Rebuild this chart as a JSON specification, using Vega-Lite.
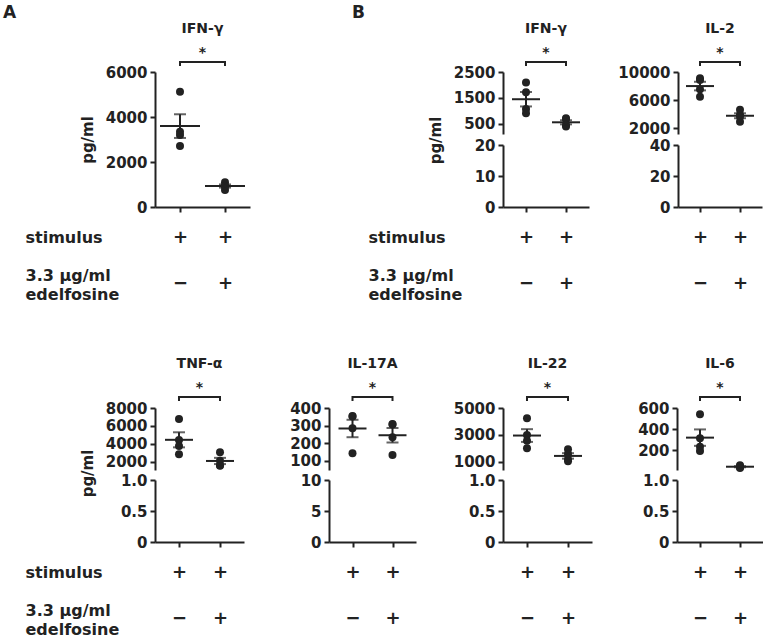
{
  "$schema": "https://vega.github.io/schema/vega-lite/v6.json",
  "padding": {"left": 3, "top": 3, "right": 0, "bottom": 0},
  "background": "white",
  "config": {
    "view": {"stroke": null},
    "font": "DejaVu Sans",
    "axis": {"grid": false, "domainColor": "#222", "domainWidth": 2, "tickColor": "#222", "tickWidth": 2, "tickSize": 5, "labelFont": "DejaVu Sans", "labelFontWeight": "bold", "labelFontSize": 15, "labelColor": "#222", "labelPadding": 3, "titleFont": "DejaVu Sans", "titleFontWeight": "bold", "titleFontSize": 15, "titleColor": "#222", "titlePadding": 10},
    "title": {"font": "DejaVu Sans", "fontSize": 14, "fontWeight": "bold", "color": "#222", "lineHeight": 24, "offset": -2}
  },
  "datasets": {
    "cyto": [
      {"figure": "A", "cytokine": "IFN-γ", "edelfosine": "−", "value": 5120},
      {"figure": "A", "cytokine": "IFN-γ", "edelfosine": "−", "value": 3350},
      {"figure": "A", "cytokine": "IFN-γ", "edelfosine": "−", "value": 3200},
      {"figure": "A", "cytokine": "IFN-γ", "edelfosine": "−", "value": 2710},
      {"figure": "A", "cytokine": "IFN-γ", "edelfosine": "+", "value": 1100},
      {"figure": "A", "cytokine": "IFN-γ", "edelfosine": "+", "value": 950},
      {"figure": "A", "cytokine": "IFN-γ", "edelfosine": "+", "value": 920},
      {"figure": "A", "cytokine": "IFN-γ", "edelfosine": "+", "value": 760},
      {"figure": "B", "cytokine": "IFN-γ", "edelfosine": "−", "value": 2100},
      {"figure": "B", "cytokine": "IFN-γ", "edelfosine": "−", "value": 1720},
      {"figure": "B", "cytokine": "IFN-γ", "edelfosine": "−", "value": 1080},
      {"figure": "B", "cytokine": "IFN-γ", "edelfosine": "−", "value": 910},
      {"figure": "B", "cytokine": "IFN-γ", "edelfosine": "+", "value": 720},
      {"figure": "B", "cytokine": "IFN-γ", "edelfosine": "+", "value": 680},
      {"figure": "B", "cytokine": "IFN-γ", "edelfosine": "+", "value": 460},
      {"figure": "B", "cytokine": "IFN-γ", "edelfosine": "+", "value": 400},
      {"figure": "B", "cytokine": "IL-2", "edelfosine": "−", "value": 9100},
      {"figure": "B", "cytokine": "IL-2", "edelfosine": "−", "value": 8860},
      {"figure": "B", "cytokine": "IL-2", "edelfosine": "−", "value": 7530},
      {"figure": "B", "cytokine": "IL-2", "edelfosine": "−", "value": 6470},
      {"figure": "B", "cytokine": "IL-2", "edelfosine": "+", "value": 4600},
      {"figure": "B", "cytokine": "IL-2", "edelfosine": "+", "value": 3900},
      {"figure": "B", "cytokine": "IL-2", "edelfosine": "+", "value": 3600},
      {"figure": "B", "cytokine": "IL-2", "edelfosine": "+", "value": 2900},
      {"figure": "B", "cytokine": "TNF-α", "edelfosine": "−", "value": 6780},
      {"figure": "B", "cytokine": "TNF-α", "edelfosine": "−", "value": 4440},
      {"figure": "B", "cytokine": "TNF-α", "edelfosine": "−", "value": 3780},
      {"figure": "B", "cytokine": "TNF-α", "edelfosine": "−", "value": 2860},
      {"figure": "B", "cytokine": "TNF-α", "edelfosine": "+", "value": 3080},
      {"figure": "B", "cytokine": "TNF-α", "edelfosine": "+", "value": 2150},
      {"figure": "B", "cytokine": "TNF-α", "edelfosine": "+", "value": 1650},
      {"figure": "B", "cytokine": "TNF-α", "edelfosine": "+", "value": 1580},
      {"figure": "B", "cytokine": "IL-17A", "edelfosine": "−", "value": 355},
      {"figure": "B", "cytokine": "IL-17A", "edelfosine": "−", "value": 352},
      {"figure": "B", "cytokine": "IL-17A", "edelfosine": "−", "value": 285},
      {"figure": "B", "cytokine": "IL-17A", "edelfosine": "−", "value": 144},
      {"figure": "B", "cytokine": "IL-17A", "edelfosine": "+", "value": 309},
      {"figure": "B", "cytokine": "IL-17A", "edelfosine": "+", "value": 306},
      {"figure": "B", "cytokine": "IL-17A", "edelfosine": "+", "value": 234},
      {"figure": "B", "cytokine": "IL-17A", "edelfosine": "+", "value": 134},
      {"figure": "B", "cytokine": "IL-22", "edelfosine": "−", "value": 4240},
      {"figure": "B", "cytokine": "IL-22", "edelfosine": "−", "value": 3000},
      {"figure": "B", "cytokine": "IL-22", "edelfosine": "−", "value": 2580},
      {"figure": "B", "cytokine": "IL-22", "edelfosine": "−", "value": 2020},
      {"figure": "B", "cytokine": "IL-22", "edelfosine": "+", "value": 1950},
      {"figure": "B", "cytokine": "IL-22", "edelfosine": "+", "value": 1600},
      {"figure": "B", "cytokine": "IL-22", "edelfosine": "+", "value": 1200},
      {"figure": "B", "cytokine": "IL-22", "edelfosine": "+", "value": 1050},
      {"figure": "B", "cytokine": "IL-6", "edelfosine": "−", "value": 540},
      {"figure": "B", "cytokine": "IL-6", "edelfosine": "−", "value": 311},
      {"figure": "B", "cytokine": "IL-6", "edelfosine": "−", "value": 231},
      {"figure": "B", "cytokine": "IL-6", "edelfosine": "−", "value": 190},
      {"figure": "B", "cytokine": "IL-6", "edelfosine": "+", "value": 55},
      {"figure": "B", "cytokine": "IL-6", "edelfosine": "+", "value": 45},
      {"figure": "B", "cytokine": "IL-6", "edelfosine": "+", "value": 35},
      {"figure": "B", "cytokine": "IL-6", "edelfosine": "+", "value": 30}
    ],
    "sig": [
      {"figure": "A", "cytokine": "IFN-γ", "edelfosine": "−", "y": 6267, "step": 1},
      {"figure": "A", "cytokine": "IFN-γ", "edelfosine": "−", "y": 6444, "step": 2},
      {"figure": "A", "cytokine": "IFN-γ", "edelfosine": "+", "y": 6444, "step": 3},
      {"figure": "A", "cytokine": "IFN-γ", "edelfosine": "+", "y": 6267, "step": 4},
      {"figure": "B", "cytokine": "IFN-γ", "edelfosine": "−", "y": 2731, "step": 1},
      {"figure": "B", "cytokine": "IFN-γ", "edelfosine": "−", "y": 2885, "step": 2},
      {"figure": "B", "cytokine": "IFN-γ", "edelfosine": "+", "y": 2885, "step": 3},
      {"figure": "B", "cytokine": "IFN-γ", "edelfosine": "+", "y": 2731, "step": 4},
      {"figure": "B", "cytokine": "IL-2", "edelfosine": "−", "y": 10857, "step": 1},
      {"figure": "B", "cytokine": "IL-2", "edelfosine": "−", "y": 11429, "step": 2},
      {"figure": "B", "cytokine": "IL-2", "edelfosine": "+", "y": 11429, "step": 3},
      {"figure": "B", "cytokine": "IL-2", "edelfosine": "+", "y": 10857, "step": 4},
      {"figure": "B", "cytokine": "TNF-α", "edelfosine": "−", "y": 8778, "step": 1},
      {"figure": "B", "cytokine": "TNF-α", "edelfosine": "−", "y": 9222, "step": 2},
      {"figure": "B", "cytokine": "TNF-α", "edelfosine": "+", "y": 9222, "step": 3},
      {"figure": "B", "cytokine": "TNF-α", "edelfosine": "+", "y": 8778, "step": 4},
      {"figure": "B", "cytokine": "IL-17A", "edelfosine": "−", "y": 440, "step": 1},
      {"figure": "B", "cytokine": "IL-17A", "edelfosine": "−", "y": 462, "step": 2},
      {"figure": "B", "cytokine": "IL-17A", "edelfosine": "+", "y": 462, "step": 3},
      {"figure": "B", "cytokine": "IL-17A", "edelfosine": "+", "y": 440, "step": 4},
      {"figure": "B", "cytokine": "IL-22", "edelfosine": "−", "y": 5519, "step": 1},
      {"figure": "B", "cytokine": "IL-22", "edelfosine": "−", "y": 5815, "step": 2},
      {"figure": "B", "cytokine": "IL-22", "edelfosine": "+", "y": 5815, "step": 3},
      {"figure": "B", "cytokine": "IL-22", "edelfosine": "+", "y": 5519, "step": 4},
      {"figure": "B", "cytokine": "IL-6", "edelfosine": "−", "y": 667, "step": 1},
      {"figure": "B", "cytokine": "IL-6", "edelfosine": "−", "y": 705, "step": 2},
      {"figure": "B", "cytokine": "IL-6", "edelfosine": "+", "y": 705, "step": 3},
      {"figure": "B", "cytokine": "IL-6", "edelfosine": "+", "y": 667, "step": 4}
    ]
  },
  "bounds": "flush",
  "spacing": 336,
  "vconcat": [
    {
      "bounds": "flush",
      "spacing": 348,
      "hconcat": [
        {
          "title": {"text": "A", "anchor": "start", "frame": "group", "dx": -152, "fontSize": 17, "offset": 0},
          "bounds": "flush",
          "vconcat": [
            {
              "width": 95, "height": 135,
              "title": {"text": ["IFN-γ", "*"]},
              "layer": [
                {"data": {"name": "cyto"}, "transform": [{"filter": "datum.figure == 'A' && datum.cytokine == 'IFN-γ'"}],
                 "mark": {"type": "circle", "size": 64, "color": "#222", "opacity": 1},
                 "encoding": {
                   "x": {"field": "edelfosine", "type": "nominal", "scale": {"type": "point", "domain": ["−", "+"], "padding": 0.5556},
                         "axis": {"labelExpr": "['+', datum.value]", "labelFontSize": 18, "labelLineHeight": 46, "labelPadding": 16, "labelAngle": 0, "labelBaseline": "top",
                                  "title": ["stimulus", "\u200b", "3.3 µg/ml", "edelfosine"], "titleX": -130, "titleY": 22, "titleAlign": "left", "titleBaseline": "top", "titleFontSize": 16, "titleLineHeight": 19}},
                   "y": {"field": "value", "type": "quantitative", "scale": {"domain": [0, 6000], "nice": false}, "axis": {"values": [0, 2000, 4000, 6000], "format": "d", "title": "pg/ml"}}
                 }},
                {"data": {"name": "cyto"}, "transform": [{"filter": "datum.figure == 'A' && datum.cytokine == 'IFN-γ'"}],
                 "mark": {"type": "tick", "size": 40, "thickness": 2, "color": "#222"},
                 "encoding": {
                   "x": {"field": "edelfosine", "type": "nominal", "scale": {"type": "point", "domain": ["−", "+"], "padding": 0.5556}},
                   "y": {"aggregate": "mean", "field": "value", "type": "quantitative", "scale": {"domain": [0, 6000], "nice": false}, "axis": {"values": [0, 2000, 4000, 6000], "format": "d", "title": "pg/ml"}}
                 }},
                {"data": {"name": "cyto"}, "transform": [{"filter": "datum.figure == 'A' && datum.cytokine == 'IFN-γ'"}],
                 "mark": {"type": "errorbar", "extent": "stderr", "color": "#222", "thickness": 2, "ticks": {"size": 12, "thickness": 2}},
                 "encoding": {
                   "x": {"field": "edelfosine", "type": "nominal", "scale": {"type": "point", "domain": ["−", "+"], "padding": 0.5556}},
                   "y": {"field": "value", "type": "quantitative", "scale": {"domain": [0, 6000], "nice": false}, "axis": {"values": [0, 2000, 4000, 6000], "format": "d", "title": "pg/ml"}}
                 }},
                {"data": {"name": "sig"}, "transform": [{"filter": "datum.figure == 'A' && datum.cytokine == 'IFN-γ'"}],
                 "mark": {"type": "line", "color": "#222", "strokeWidth": 2, "strokeJoin": "miter"},
                 "encoding": {
                   "x": {"field": "edelfosine", "type": "nominal", "scale": {"type": "point", "domain": ["−", "+"], "padding": 0.5556}},
                   "y": {"field": "y", "type": "quantitative", "scale": {"domain": [0, 6000], "nice": false}, "axis": {"values": [0, 2000, 4000, 6000], "format": "d", "title": "pg/ml"}},
                   "order": {"field": "step", "type": "quantitative"}
                 }}
              ]
            }
          ]
        },
        {
          "title": {"text": "B", "anchor": "start", "frame": "group", "dx": -151, "fontSize": 17, "offset": 0},
          "bounds": "flush",
          "spacing": 175,
          "hconcat": [
            {
              "bounds": "flush", "spacing": 11,
              "vconcat": [
                {
                  "width": 86, "height": 62,
                  "title": {"text": ["IFN-γ", "*"]},
                  "layer": [
                    {"data": {"name": "cyto"}, "transform": [{"filter": "datum.figure == 'B' && datum.cytokine == 'IFN-γ'"}],
                     "mark": {"type": "circle", "size": 64, "color": "#222", "opacity": 1},
                     "encoding": {
                       "x": {"field": "edelfosine", "type": "nominal", "scale": {"type": "point", "domain": ["−", "+"], "padding": 0.575}, "axis": null},
                       "y": {"field": "value", "type": "quantitative", "scale": {"domain": [115, 2500], "nice": false, "zero": false}, "axis": {"values": [500, 1500, 2500], "format": "d", "title": "pg/ml", "titleY": 68}}
                     }},
                    {"data": {"name": "cyto"}, "transform": [{"filter": "datum.figure == 'B' && datum.cytokine == 'IFN-γ'"}],
                     "mark": {"type": "tick", "size": 28, "thickness": 2, "color": "#222"},
                     "encoding": {
                       "x": {"field": "edelfosine", "type": "nominal", "scale": {"type": "point", "domain": ["−", "+"], "padding": 0.575}, "axis": null},
                       "y": {"aggregate": "mean", "field": "value", "type": "quantitative", "scale": {"domain": [115, 2500], "nice": false, "zero": false}, "axis": {"values": [500, 1500, 2500], "format": "d", "title": "pg/ml", "titleY": 68}}
                     }},
                    {"data": {"name": "cyto"}, "transform": [{"filter": "datum.figure == 'B' && datum.cytokine == 'IFN-γ'"}],
                     "mark": {"type": "errorbar", "extent": "stderr", "color": "#222", "thickness": 2, "ticks": {"size": 12, "thickness": 2}},
                     "encoding": {
                       "x": {"field": "edelfosine", "type": "nominal", "scale": {"type": "point", "domain": ["−", "+"], "padding": 0.575}, "axis": null},
                       "y": {"field": "value", "type": "quantitative", "scale": {"domain": [115, 2500], "nice": false, "zero": false}, "axis": {"values": [500, 1500, 2500], "format": "d", "title": "pg/ml", "titleY": 68}}
                     }},
                    {"data": {"name": "sig"}, "transform": [{"filter": "datum.figure == 'B' && datum.cytokine == 'IFN-γ'"}],
                     "mark": {"type": "line", "color": "#222", "strokeWidth": 2, "strokeJoin": "miter"},
                     "encoding": {
                       "x": {"field": "edelfosine", "type": "nominal", "scale": {"type": "point", "domain": ["−", "+"], "padding": 0.575}, "axis": null},
                       "y": {"field": "y", "type": "quantitative", "scale": {"domain": [115, 2500], "nice": false, "zero": false}, "axis": {"values": [500, 1500, 2500], "format": "d", "title": "pg/ml", "titleY": 68}},
                       "order": {"field": "step", "type": "quantitative"}
                     }}
                  ]
                },
                {
                  "width": 86, "height": 62,
                  "data": {"name": "cyto"}, "transform": [{"filter": "datum.figure == 'B' && datum.cytokine == 'IFN-γ'"}],
                  "mark": {"type": "circle", "size": 64, "color": "#222", "opacity": 1, "clip": true},
                  "encoding": {
                    "x": {"field": "edelfosine", "type": "nominal", "scale": {"type": "point", "domain": ["−", "+"], "padding": 0.575},
                          "axis": {"labelExpr": "['+', datum.value]", "labelFontSize": 18, "labelLineHeight": 46, "labelPadding": 16, "labelAngle": 0, "labelBaseline": "top",
                                   "title": ["stimulus", "\u200b", "3.3 µg/ml", "edelfosine"], "titleX": -135, "titleY": 22, "titleAlign": "left", "titleBaseline": "top", "titleFontSize": 16, "titleLineHeight": 19}},
                    "y": {"field": "value", "type": "quantitative", "scale": {"domain": [0, 20], "nice": false}, "axis": {"values": [0, 10, 20], "format": "d", "title": null}}
                  }
                }
              ]
            },
            {
              "bounds": "flush", "spacing": 11,
              "vconcat": [
                {
                  "width": 84, "height": 62,
                  "title": {"text": ["IL-2", "*"]},
                  "layer": [
                    {"data": {"name": "cyto"}, "transform": [{"filter": "datum.figure == 'B' && datum.cytokine == 'IL-2'"}],
                     "mark": {"type": "circle", "size": 64, "color": "#222", "opacity": 1},
                     "encoding": {
                       "x": {"field": "edelfosine", "type": "nominal", "scale": {"type": "point", "domain": ["−", "+"], "padding": 0.55}, "axis": null},
                       "y": {"field": "value", "type": "quantitative", "scale": {"domain": [1143, 10000], "nice": false, "zero": false}, "axis": {"values": [2000, 6000, 10000], "format": "d", "title": null}}
                     }},
                    {"data": {"name": "cyto"}, "transform": [{"filter": "datum.figure == 'B' && datum.cytokine == 'IL-2'"}],
                     "mark": {"type": "tick", "size": 28, "thickness": 2, "color": "#222"},
                     "encoding": {
                       "x": {"field": "edelfosine", "type": "nominal", "scale": {"type": "point", "domain": ["−", "+"], "padding": 0.55}, "axis": null},
                       "y": {"aggregate": "mean", "field": "value", "type": "quantitative", "scale": {"domain": [1143, 10000], "nice": false, "zero": false}, "axis": {"values": [2000, 6000, 10000], "format": "d", "title": null}}
                     }},
                    {"data": {"name": "cyto"}, "transform": [{"filter": "datum.figure == 'B' && datum.cytokine == 'IL-2'"}],
                     "mark": {"type": "errorbar", "extent": "stderr", "color": "#222", "thickness": 2, "ticks": {"size": 12, "thickness": 2}},
                     "encoding": {
                       "x": {"field": "edelfosine", "type": "nominal", "scale": {"type": "point", "domain": ["−", "+"], "padding": 0.55}, "axis": null},
                       "y": {"field": "value", "type": "quantitative", "scale": {"domain": [1143, 10000], "nice": false, "zero": false}, "axis": {"values": [2000, 6000, 10000], "format": "d", "title": null}}
                     }},
                    {"data": {"name": "sig"}, "transform": [{"filter": "datum.figure == 'B' && datum.cytokine == 'IL-2'"}],
                     "mark": {"type": "line", "color": "#222", "strokeWidth": 2, "strokeJoin": "miter"},
                     "encoding": {
                       "x": {"field": "edelfosine", "type": "nominal", "scale": {"type": "point", "domain": ["−", "+"], "padding": 0.55}, "axis": null},
                       "y": {"field": "y", "type": "quantitative", "scale": {"domain": [1143, 10000], "nice": false, "zero": false}, "axis": {"values": [2000, 6000, 10000], "format": "d", "title": null}},
                       "order": {"field": "step", "type": "quantitative"}
                     }}
                  ]
                },
                {
                  "width": 84, "height": 62,
                  "data": {"name": "cyto"}, "transform": [{"filter": "datum.figure == 'B' && datum.cytokine == 'IL-2'"}],
                  "mark": {"type": "circle", "size": 64, "color": "#222", "opacity": 1, "clip": true},
                  "encoding": {
                    "x": {"field": "edelfosine", "type": "nominal", "scale": {"type": "point", "domain": ["−", "+"], "padding": 0.55},
                          "axis": {"labelExpr": "['+', datum.value]", "labelFontSize": 18, "labelLineHeight": 46, "labelPadding": 16, "labelAngle": 0, "labelBaseline": "top", "title": null}},
                    "y": {"field": "value", "type": "quantitative", "scale": {"domain": [0, 40], "nice": false}, "axis": {"values": [0, 20, 40], "format": "d", "title": null}}
                  }
                }
              ]
            }
          ]
        }
      ]
    },
    {
      "bounds": "flush",
      "spacing": 174,
      "hconcat": [
        {
          "bounds": "flush", "spacing": 10,
          "vconcat": [
            {
              "width": 89, "height": 62,
              "title": {"text": ["TNF-α", "*"]},
              "layer": [
                {"data": {"name": "cyto"}, "transform": [{"filter": "datum.figure == 'B' && datum.cytokine == 'TNF-α'"}],
                 "mark": {"type": "circle", "size": 64, "color": "#222", "opacity": 1},
                 "encoding": {
                   "x": {"field": "edelfosine", "type": "nominal", "scale": {"type": "point", "domain": ["−", "+"], "padding": 0.585}, "axis": null},
                   "y": {"field": "value", "type": "quantitative", "scale": {"domain": [1111, 8000], "nice": false, "zero": false}, "axis": {"values": [2000, 4000, 6000, 8000], "format": "d", "title": "pg/ml", "titleY": 65}}
                 }},
                {"data": {"name": "cyto"}, "transform": [{"filter": "datum.figure == 'B' && datum.cytokine == 'TNF-α'"}],
                 "mark": {"type": "tick", "size": 28, "thickness": 2, "color": "#222"},
                 "encoding": {
                   "x": {"field": "edelfosine", "type": "nominal", "scale": {"type": "point", "domain": ["−", "+"], "padding": 0.585}, "axis": null},
                   "y": {"aggregate": "mean", "field": "value", "type": "quantitative", "scale": {"domain": [1111, 8000], "nice": false, "zero": false}, "axis": {"values": [2000, 4000, 6000, 8000], "format": "d", "title": "pg/ml", "titleY": 65}}
                 }},
                {"data": {"name": "cyto"}, "transform": [{"filter": "datum.figure == 'B' && datum.cytokine == 'TNF-α'"}],
                 "mark": {"type": "errorbar", "extent": "stderr", "color": "#222", "thickness": 2, "ticks": {"size": 12, "thickness": 2}},
                 "encoding": {
                   "x": {"field": "edelfosine", "type": "nominal", "scale": {"type": "point", "domain": ["−", "+"], "padding": 0.585}, "axis": null},
                   "y": {"field": "value", "type": "quantitative", "scale": {"domain": [1111, 8000], "nice": false, "zero": false}, "axis": {"values": [2000, 4000, 6000, 8000], "format": "d", "title": "pg/ml", "titleY": 65}}
                 }},
                {"data": {"name": "sig"}, "transform": [{"filter": "datum.figure == 'B' && datum.cytokine == 'TNF-α'"}],
                 "mark": {"type": "line", "color": "#222", "strokeWidth": 2, "strokeJoin": "miter"},
                 "encoding": {
                   "x": {"field": "edelfosine", "type": "nominal", "scale": {"type": "point", "domain": ["−", "+"], "padding": 0.585}, "axis": null},
                   "y": {"field": "y", "type": "quantitative", "scale": {"domain": [1111, 8000], "nice": false, "zero": false}, "axis": {"values": [2000, 4000, 6000, 8000], "format": "d", "title": "pg/ml", "titleY": 65}},
                   "order": {"field": "step", "type": "quantitative"}
                 }}
              ]
            },
            {
              "width": 89, "height": 62,
              "data": {"name": "cyto"}, "transform": [{"filter": "datum.figure == 'B' && datum.cytokine == 'TNF-α'"}],
              "mark": {"type": "circle", "size": 64, "color": "#222", "opacity": 1, "clip": true},
              "encoding": {
                "x": {"field": "edelfosine", "type": "nominal", "scale": {"type": "point", "domain": ["−", "+"], "padding": 0.585},
                      "axis": {"labelExpr": "['+', datum.value]", "labelFontSize": 18, "labelLineHeight": 46, "labelPadding": 16, "labelAngle": 0, "labelBaseline": "top",
                               "title": ["stimulus", "\u200b", "3.3 µg/ml", "edelfosine"], "titleX": -130, "titleY": 22, "titleAlign": "left", "titleBaseline": "top", "titleFontSize": 16, "titleLineHeight": 19}},
                "y": {"field": "value", "type": "quantitative", "scale": {"domain": [0, 1], "nice": false}, "axis": {"values": [0, 0.5, 1], "labelExpr": "datum.value == 0 ? '0' : format(datum.value, '.1f')", "title": null}}
              }
            }
          ]
        },
        {
          "bounds": "flush", "spacing": 10,
          "vconcat": [
            {
              "width": 87, "height": 62,
              "title": {"text": ["IL-17A", "*"]},
              "layer": [
                {"data": {"name": "cyto"}, "transform": [{"filter": "datum.figure == 'B' && datum.cytokine == 'IL-17A'"}],
                 "mark": {"type": "circle", "size": 64, "color": "#222", "opacity": 1},
                 "encoding": {
                   "x": {"field": "edelfosine", "type": "nominal", "scale": {"type": "point", "domain": ["−", "+"], "padding": 0.5875}, "axis": null},
                   "y": {"field": "value", "type": "quantitative", "scale": {"domain": [49, 400], "nice": false, "zero": false}, "axis": {"values": [100, 200, 300, 400], "format": "d", "title": null}}
                 }},
                {"data": {"name": "cyto"}, "transform": [{"filter": "datum.figure == 'B' && datum.cytokine == 'IL-17A'"}],
                 "mark": {"type": "tick", "size": 28, "thickness": 2, "color": "#222"},
                 "encoding": {
                   "x": {"field": "edelfosine", "type": "nominal", "scale": {"type": "point", "domain": ["−", "+"], "padding": 0.5875}, "axis": null},
                   "y": {"aggregate": "mean", "field": "value", "type": "quantitative", "scale": {"domain": [49, 400], "nice": false, "zero": false}, "axis": {"values": [100, 200, 300, 400], "format": "d", "title": null}}
                 }},
                {"data": {"name": "cyto"}, "transform": [{"filter": "datum.figure == 'B' && datum.cytokine == 'IL-17A'"}],
                 "mark": {"type": "errorbar", "extent": "stderr", "color": "#222", "thickness": 2, "ticks": {"size": 12, "thickness": 2}},
                 "encoding": {
                   "x": {"field": "edelfosine", "type": "nominal", "scale": {"type": "point", "domain": ["−", "+"], "padding": 0.5875}, "axis": null},
                   "y": {"field": "value", "type": "quantitative", "scale": {"domain": [49, 400], "nice": false, "zero": false}, "axis": {"values": [100, 200, 300, 400], "format": "d", "title": null}}
                 }},
                {"data": {"name": "sig"}, "transform": [{"filter": "datum.figure == 'B' && datum.cytokine == 'IL-17A'"}],
                 "mark": {"type": "line", "color": "#222", "strokeWidth": 2, "strokeJoin": "miter"},
                 "encoding": {
                   "x": {"field": "edelfosine", "type": "nominal", "scale": {"type": "point", "domain": ["−", "+"], "padding": 0.5875}, "axis": null},
                   "y": {"field": "y", "type": "quantitative", "scale": {"domain": [49, 400], "nice": false, "zero": false}, "axis": {"values": [100, 200, 300, 400], "format": "d", "title": null}},
                   "order": {"field": "step", "type": "quantitative"}
                 }}
              ]
            },
            {
              "width": 87, "height": 62,
              "data": {"name": "cyto"}, "transform": [{"filter": "datum.figure == 'B' && datum.cytokine == 'IL-17A'"}],
              "mark": {"type": "circle", "size": 64, "color": "#222", "opacity": 1, "clip": true},
              "encoding": {
                "x": {"field": "edelfosine", "type": "nominal", "scale": {"type": "point", "domain": ["−", "+"], "padding": 0.5875},
                      "axis": {"labelExpr": "['+', datum.value]", "labelFontSize": 18, "labelLineHeight": 46, "labelPadding": 16, "labelAngle": 0, "labelBaseline": "top", "title": null}},
                "y": {"field": "value", "type": "quantitative", "scale": {"domain": [0, 10], "nice": false}, "axis": {"values": [0, 5, 10], "format": "d", "title": null}}
              }
            }
          ]
        },
        {
          "bounds": "flush", "spacing": 10,
          "vconcat": [
            {
              "width": 89, "height": 62,
              "title": {"text": ["IL-22", "*"]},
              "layer": [
                {"data": {"name": "cyto"}, "transform": [{"filter": "datum.figure == 'B' && datum.cytokine == 'IL-22'"}],
                 "mark": {"type": "circle", "size": 64, "color": "#222", "opacity": 1},
                 "encoding": {
                   "x": {"field": "edelfosine", "type": "nominal", "scale": {"type": "point", "domain": ["−", "+"], "padding": 0.585}, "axis": null},
                   "y": {"field": "value", "type": "quantitative", "scale": {"domain": [407, 5000], "nice": false, "zero": false}, "axis": {"values": [1000, 3000, 5000], "format": "d", "title": null}}
                 }},
                {"data": {"name": "cyto"}, "transform": [{"filter": "datum.figure == 'B' && datum.cytokine == 'IL-22'"}],
                 "mark": {"type": "tick", "size": 28, "thickness": 2, "color": "#222"},
                 "encoding": {
                   "x": {"field": "edelfosine", "type": "nominal", "scale": {"type": "point", "domain": ["−", "+"], "padding": 0.585}, "axis": null},
                   "y": {"aggregate": "mean", "field": "value", "type": "quantitative", "scale": {"domain": [407, 5000], "nice": false, "zero": false}, "axis": {"values": [1000, 3000, 5000], "format": "d", "title": null}}
                 }},
                {"data": {"name": "cyto"}, "transform": [{"filter": "datum.figure == 'B' && datum.cytokine == 'IL-22'"}],
                 "mark": {"type": "errorbar", "extent": "stderr", "color": "#222", "thickness": 2, "ticks": {"size": 12, "thickness": 2}},
                 "encoding": {
                   "x": {"field": "edelfosine", "type": "nominal", "scale": {"type": "point", "domain": ["−", "+"], "padding": 0.585}, "axis": null},
                   "y": {"field": "value", "type": "quantitative", "scale": {"domain": [407, 5000], "nice": false, "zero": false}, "axis": {"values": [1000, 3000, 5000], "format": "d", "title": null}}
                 }},
                {"data": {"name": "sig"}, "transform": [{"filter": "datum.figure == 'B' && datum.cytokine == 'IL-22'"}],
                 "mark": {"type": "line", "color": "#222", "strokeWidth": 2, "strokeJoin": "miter"},
                 "encoding": {
                   "x": {"field": "edelfosine", "type": "nominal", "scale": {"type": "point", "domain": ["−", "+"], "padding": 0.585}, "axis": null},
                   "y": {"field": "y", "type": "quantitative", "scale": {"domain": [407, 5000], "nice": false, "zero": false}, "axis": {"values": [1000, 3000, 5000], "format": "d", "title": null}},
                   "order": {"field": "step", "type": "quantitative"}
                 }}
              ]
            },
            {
              "width": 89, "height": 62,
              "data": {"name": "cyto"}, "transform": [{"filter": "datum.figure == 'B' && datum.cytokine == 'IL-22'"}],
              "mark": {"type": "circle", "size": 64, "color": "#222", "opacity": 1, "clip": true},
              "encoding": {
                "x": {"field": "edelfosine", "type": "nominal", "scale": {"type": "point", "domain": ["−", "+"], "padding": 0.585},
                      "axis": {"labelExpr": "['+', datum.value]", "labelFontSize": 18, "labelLineHeight": 46, "labelPadding": 16, "labelAngle": 0, "labelBaseline": "top", "title": null}},
                "y": {"field": "value", "type": "quantitative", "scale": {"domain": [0, 1], "nice": false}, "axis": {"values": [0, 0.5, 1], "labelExpr": "datum.value == 0 ? '0' : format(datum.value, '.1f')", "title": null}}
              }
            }
          ]
        },
        {
          "bounds": "flush", "spacing": 10,
          "vconcat": [
            {
              "width": 86, "height": 62,
              "title": {"text": ["IL-6", "*"]},
              "layer": [
                {"data": {"name": "cyto"}, "transform": [{"filter": "datum.figure == 'B' && datum.cytokine == 'IL-6'"}],
                 "mark": {"type": "circle", "size": 64, "color": "#222", "opacity": 1},
                 "encoding": {
                   "x": {"field": "edelfosine", "type": "nominal", "scale": {"type": "point", "domain": ["−", "+"], "padding": 0.575}, "axis": null},
                   "y": {"field": "value", "type": "quantitative", "scale": {"domain": [10, 600], "nice": false, "zero": false}, "axis": {"values": [200, 400, 600], "format": "d", "title": null}}
                 }},
                {"data": {"name": "cyto"}, "transform": [{"filter": "datum.figure == 'B' && datum.cytokine == 'IL-6'"}],
                 "mark": {"type": "tick", "size": 28, "thickness": 2, "color": "#222"},
                 "encoding": {
                   "x": {"field": "edelfosine", "type": "nominal", "scale": {"type": "point", "domain": ["−", "+"], "padding": 0.575}, "axis": null},
                   "y": {"aggregate": "mean", "field": "value", "type": "quantitative", "scale": {"domain": [10, 600], "nice": false, "zero": false}, "axis": {"values": [200, 400, 600], "format": "d", "title": null}}
                 }},
                {"data": {"name": "cyto"}, "transform": [{"filter": "datum.figure == 'B' && datum.cytokine == 'IL-6'"}],
                 "mark": {"type": "errorbar", "extent": "stderr", "color": "#222", "thickness": 2, "ticks": {"size": 12, "thickness": 2}},
                 "encoding": {
                   "x": {"field": "edelfosine", "type": "nominal", "scale": {"type": "point", "domain": ["−", "+"], "padding": 0.575}, "axis": null},
                   "y": {"field": "value", "type": "quantitative", "scale": {"domain": [10, 600], "nice": false, "zero": false}, "axis": {"values": [200, 400, 600], "format": "d", "title": null}}
                 }},
                {"data": {"name": "sig"}, "transform": [{"filter": "datum.figure == 'B' && datum.cytokine == 'IL-6'"}],
                 "mark": {"type": "line", "color": "#222", "strokeWidth": 2, "strokeJoin": "miter"},
                 "encoding": {
                   "x": {"field": "edelfosine", "type": "nominal", "scale": {"type": "point", "domain": ["−", "+"], "padding": 0.575}, "axis": null},
                   "y": {"field": "y", "type": "quantitative", "scale": {"domain": [10, 600], "nice": false, "zero": false}, "axis": {"values": [200, 400, 600], "format": "d", "title": null}},
                   "order": {"field": "step", "type": "quantitative"}
                 }}
              ]
            },
            {
              "width": 86, "height": 62,
              "data": {"name": "cyto"}, "transform": [{"filter": "datum.figure == 'B' && datum.cytokine == 'IL-6'"}],
              "mark": {"type": "circle", "size": 64, "color": "#222", "opacity": 1, "clip": true},
              "encoding": {
                "x": {"field": "edelfosine", "type": "nominal", "scale": {"type": "point", "domain": ["−", "+"], "padding": 0.575},
                      "axis": {"labelExpr": "['+', datum.value]", "labelFontSize": 18, "labelLineHeight": 46, "labelPadding": 16, "labelAngle": 0, "labelBaseline": "top", "title": null}},
                "y": {"field": "value", "type": "quantitative", "scale": {"domain": [0, 1], "nice": false}, "axis": {"values": [0, 0.5, 1], "labelExpr": "datum.value == 0 ? '0' : format(datum.value, '.1f')", "title": null}}
              }
            }
          ]
        }
      ]
    }
  ]
}
